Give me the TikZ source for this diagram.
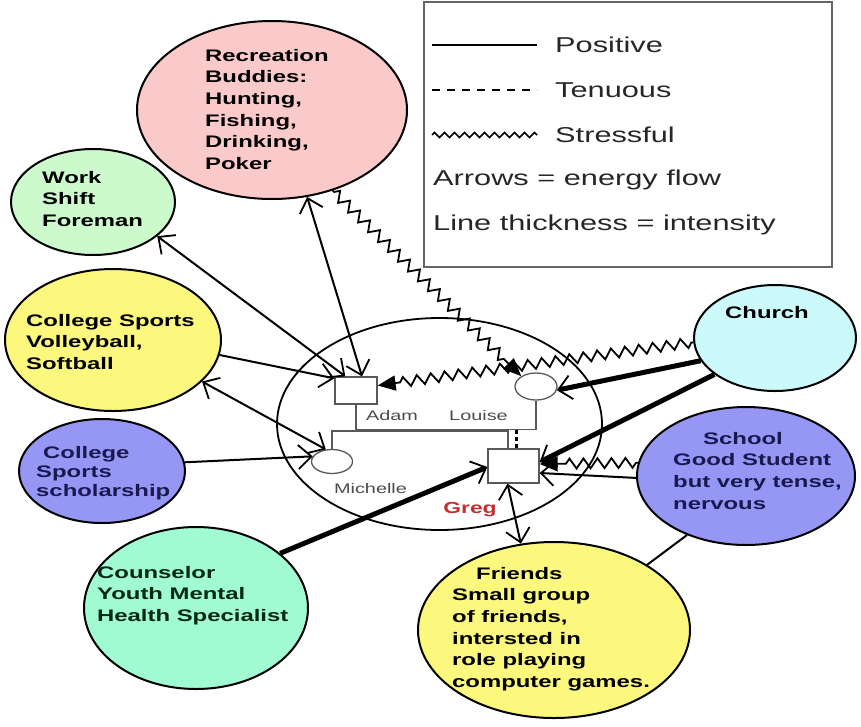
\documentclass[tikz,border=0pt]{standalone}
\usepackage{fontspec}
\setmainfont{Liberation Sans}[FakeStretch=1.43]
\usetikzlibrary{shapes.geometric, arrows.meta, decorations.pathmorphing}
\definecolor{recfill}{RGB}{250,202,202}
\definecolor{workfill}{RGB}{204,250,204}
\definecolor{yelfill}{RGB}{252,248,125}
\definecolor{bluefill}{RGB}{150,150,245}
\definecolor{mintfill}{RGB}{160,250,210}
\definecolor{cyanfill}{RGB}{204,250,250}
\definecolor{navytxt}{RGB}{25,25,80}
\definecolor{greentxt}{RGB}{5,40,20}
\definecolor{gregred}{RGB}{200,45,45}
\begin{document}
\begin{tikzpicture}[x=1pt,y=-1pt,
  vbarb/.tip={Straight Barb[length=13pt,width=24pt,line width=1.8pt]},
  ftri/.tip={Triangle[length=18pt,width=15pt]},
  bub/.style={ellipse, draw=black, line width=2pt, inner sep=0pt},
  btxt/.style={anchor=north west, align=left, inner sep=0pt, font=\bfseries\fontsize{16.7}{21.6}\selectfont},
  famline/.style={draw=black!65, line width=1.3pt},
  person/.style={draw=black!65, line width=1.3pt, fill=white, inner sep=0pt},
  lbl/.style={anchor=base, inner sep=0pt, font=\fontsize{13.9}{16}\selectfont, text=black!70},
  conn/.style={line width=2pt},
  heavy/.style={line width=5pt},
  stress/.style={decorate, decoration={zigzag, segment length=14pt, amplitude=5pt, pre length=2pt, post length=22pt}, line width=1.8pt},
  legtxt/.style={anchor=base west, inner sep=0pt, font=\fontsize{21.5}{24}\selectfont, text=black!85}
]
\useasboundingbox (0,0) rectangle (861,726);

% legend
\node[draw=black!60, line width=1.8pt, minimum width=408pt, minimum height=265pt, inner sep=0pt] (legend) at (628,134.5) {};
\coordinate (pa) at (432,45);  \coordinate (pb) at (537,45);
\coordinate (ta) at (432,90);  \coordinate (tb) at (537,90);
\coordinate (sa) at (432,135); \coordinate (sb) at (537,135);
\draw[line width=1.7pt] (pa) -- (pb);
\draw[line width=1.7pt, dash pattern=on 8pt off 7pt] (ta) -- (tb);
\draw[line width=1.7pt, decorate, decoration={zigzag, segment length=10pt, amplitude=2.5pt}] (sa) -- (sb);
\node[legtxt] (lpos) at (555,52.5) {Positive};
\node[legtxt] (lten) at (555,97.5) {Tenuous};
\node[legtxt] (lstr) at (555,142.5) {Stressful};
\node[legtxt] (larr) at (433,185.5) {Arrows = energy flow};
\node[legtxt] (lthk) at (433,230) {Line thickness = intensity};

% bubbles
\node[bub, fill=recfill, minimum width=270pt, minimum height=178pt] (rec) at (272,110) {};
\node[bub, fill=workfill, minimum width=164pt, minimum height=106pt] (work) at (93,202) {};
\node[bub, fill=yelfill, minimum width=216pt, minimum height=142pt] (cs) at (113,340) {};
\node[bub, fill=bluefill, minimum width=166pt, minimum height=104pt] (sch) at (102,471) {};
\node[bub, fill=mintfill, minimum width=224pt, minimum height=162pt] (coun) at (196,608) {};
\node[bub, fill=yelfill, minimum width=272pt, minimum height=176pt] (fr) at (554,630) {};
\node[bub, fill=bluefill, minimum width=218pt, minimum height=138pt] (school) at (746,476) {};
\node[bub, fill=cyanfill, minimum width=162pt, minimum height=106pt] (church) at (775,338) {};

\node[btxt] (rect) at (205,49) {Recreation\\Buddies:\\Hunting,\\Fishing,\\Drinking,\\Poker};
\node[btxt] (workt) at (42,171) {Work\\Shift\\Foreman};
\node[btxt] (cst) at (26,314) {College Sports\\Volleyball,\\Softball};
\node[btxt, text=navytxt, font=\bfseries\fontsize{16.7}{19.2}\selectfont] (scht) at (36,446) {\hspace*{7pt}College\\Sports\\scholarship};
\node[btxt, text=greentxt] (count) at (97,566) {Counselor\\Youth Mental\\Health Specialist};
\node[btxt] (frt) at (452,567) {\hspace*{24pt}Friends\\Small group\\of friends,\\intersted in\\role playing\\computer games.};
\node[btxt, text=navytxt] (schoolt) at (673,432) {\hspace*{30pt}School\\Good Student\\but very tense,\\nervous};
\node[inner sep=0pt, font=\bfseries\fontsize{16.7}{20}\selectfont] (churcht) at (767,313) {Church};

% family
\node[ellipse, draw=black, line width=1.8pt, minimum width=325pt, minimum height=212pt, inner sep=0pt] (fam) at (439.5,424) {};
\node[person, rectangle, minimum width=42pt, minimum height=27pt] (adam) at (356,390.5) {};
\node[person, ellipse, minimum width=42pt, minimum height=27pt] (louise) at (536,386.5) {};
\node[person, ellipse, minimum width=41pt, minimum height=24pt] (mich) at (332,461.5) {};
\node[person, rectangle, minimum width=51pt, minimum height=34pt] (greg) at (513.5,466) {};
\draw[famline] (adam.south) -- ++(0,25) -| (louise.south);
\draw[famline] (mich.north) -- ++(0,-18) -| ([xshift=-5.5pt]greg.north);
\draw[line width=2.5pt, dash pattern=on 4pt off 3pt] ([xshift=3pt]greg.north) -- ++(0,-20);
\node[lbl] (adaml) at (392,420) {Adam};
\node[lbl] (louisel) at (478.5,420) {Louise};
\node[lbl] (michl) at (370.5,493) {Michelle};
\node[lbl, text=gregred, font=\bfseries\fontsize{16}{18}\selectfont] (gregl) at (470,513.5) {Greg};

% connectors
\draw[conn, vbarb-vbarb] (work.-28) -- ([xshift=11pt]adam.north west);
\draw[conn, vbarb-vbarb] (rec.-68) -- ([xshift=6pt]adam.north);
\draw[stress, -ftri] (rec.-53) -- (louise.145);
\draw[stress, -ftri] (church.183) -- ([yshift=5pt]adam.east);
\draw[heavy, -vbarb] (church.197) -- (louise.-10);
\draw[heavy, -vbarb] (church.211) -- ([yshift=4pt]greg.east);
\draw[stress, -ftri] (school.173) -- ([yshift=2pt]greg.east);
\draw[conn, -vbarb] (school.181) -- ([yshift=-7pt]greg.east);
\draw[conn, vbarb-vbarb] (fr.111) -- ([xshift=-6pt]greg.south);
\draw[conn] (school.225) -- (fr.35);
\draw[heavy, -vbarb] (coun.33) -- ([yshift=-1pt]greg.west);
\draw[conn, -vbarb] (cs.-8) -- ([yshift=-2pt]adam.north west);
\draw[conn, vbarb-vbarb] (cs.-25) -- (mich.117);
\draw[conn, -vbarb] (sch.6) -- (mich.165);
\end{tikzpicture}
\end{document}
